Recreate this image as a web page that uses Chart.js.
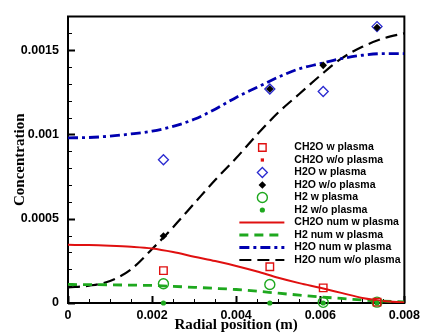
<!DOCTYPE html>
<html>
<head>
<meta charset="utf-8">
<script src="https://cdn.jsdelivr.net/npm/chart.js@4.4.0/dist/chart.umd.min.js"></script>
<style>
  html, body { margin: 0; padding: 0; background: #fff; }
  canvas { display: block; }
</style>
</head>
<body>
<canvas id="chart" width="425" height="333"></canvas>
<script>
// measured points (radial position, m)
var pointX = [0.00227, 0.0048, 0.00607, 0.00735];
var ch2oPlasma = [0.000192, 0.000215, 0.00009, 0.000005];
var ch2oNoPlasma = [0, 0, 0, 0];
var h2oPlasma = [0.00085, 0.00127, 0.001255, 0.00164];
var h2oNoPlasma = [0.000398, 0.00127, 0.00141, 0.001634];
var h2Plasma = [0.000114, 0.00011, 0.000004, 0.000005];
var h2NoPlasma = [0, 0, 0, 0];

// numerical profiles
var numX = [0, 0.0005, 0.001, 0.0015, 0.002, 0.0025, 0.003, 0.0035, 0.004, 0.0045, 0.005, 0.0055, 0.006, 0.0065, 0.007, 0.0075, 0.008];
var ch2oNum = [0.000345, 0.000344, 0.00034, 0.000334, 0.000324, 0.000303, 0.000275, 0.000249, 0.00022, 0.000187, 0.00015, 0.000118, 0.00009, 0.00006, 0.00003, 0.000012, 0.000003];
var h2Num = [0.00011, 0.000109, 0.000108, 0.000106, 0.000104, 0.000099, 0.000093, 0.000087, 0.00008, 0.00007, 0.000058, 0.000047, 0.000036, 0.000027, 0.000018, 0.000011, 0.000006];
var h2oNum = [0.00098, 0.000982, 0.00099, 0.001003, 0.00102, 0.001048, 0.00109, 0.00115, 0.00122, 0.00128, 0.00134, 0.00139, 0.00142, 0.00145, 0.00147, 0.00148, 0.00148];
var h2oNumNoPlasma = [0.000092, 0.000103, 0.00013, 0.0002, 0.00032, 0.00045, 0.00059, 0.00073, 0.00086, 0.001, 0.00113, 0.00124, 0.00135, 0.00145, 0.00152, 0.00157, 0.0016];

var xTicks = [0, 0.002, 0.004, 0.006, 0.008];
var xTickLabels = ['0', '0.002', '0.004', '0.006', '0.008'];
var yTicks = [0, 0.0005, 0.001, 0.0015];
var yTickLabels = ['0', '0.0005', '0.001', '0.0015'];

var RED = '#e01010', GREEN = '#1ea81e', BLUE = '#2a2ad0', NAVY = '#0000b0';

function pts(xs, ys) {
    return xs.map(function (x, i) { return {x: x, y: ys[i]}; });
}

function markerSet(label, ys, style, radius, fill, stroke, bw, order) {
    return {
        label: label, data: pts(pointX, ys), showLine: false, clip: false,
        pointStyle: style, pointRadius: radius, pointHoverRadius: radius,
        backgroundColor: fill, borderColor: stroke, pointBorderWidth: bw, order: order
    };
}

function lineSet(label, ys, color, width, dash) {
    return {
        label: label, data: pts(numX, ys), showLine: true, pointRadius: 0,
        borderColor: color, backgroundColor: color, borderWidth: width,
        borderDash: dash, cubicInterpolationMode: 'monotone', order: 5, isLine: true
    };
}

var datasets = [
    markerSet('CH2O w plasma', ch2oPlasma, 'rect', 5.3, 'rgba(0,0,0,0)', RED, 1.4, 2),
    markerSet('CH2O w/o plasma', ch2oNoPlasma, 'rect', 2.3, RED, RED, 0, 3),
    markerSet('H2O w plasma', h2oPlasma, 'rectRot', 5, 'rgba(0,0,0,0)', BLUE, 1.3, 2),
    markerSet('H2O w/o plasma', h2oNoPlasma, 'rectRot', 3.8, '#000', '#000', 0, 1),
    markerSet('H2 w plasma', h2Plasma, 'circle', 5, 'rgba(0,0,0,0)', GREEN, 1.4, 2),
    markerSet('H2 w/o plasma', h2NoPlasma, 'circle', 2.6, GREEN, GREEN, 0, 1),
    lineSet('CH2O num w plasma', ch2oNum, RED, 2, []),
    lineSet('H2 num w plasma', h2Num, GREEN, 2.8, [9, 6]),
    lineSet('H2O num w plasma', h2oNum, NAVY, 2.8, [10, 4, 3, 4]),
    lineSet('H2O num w/o plasma', h2oNumNoPlasma, '#000', 2.2, [12, 6])
];

function shape(ctx, style, x, y, r) {
    ctx.beginPath();
    if (style === 'circle') {
        ctx.arc(x, y, r, 0, Math.PI * 2);
    } else if (style === 'rect') {
        var s = r * Math.SQRT1_2;
        ctx.rect(x - s, y - s, 2 * s, 2 * s);
    } else {
        ctx.moveTo(x, y - r); ctx.lineTo(x + r, y); ctx.lineTo(x, y + r); ctx.lineTo(x - r, y);
        ctx.closePath();
    }
}

// inward ticks and frame like the original plot
var frameTicks = {
    id: 'frameTicks',
    beforeDatasetsDraw: function (chart) {
        var ctx = chart.ctx, a = chart.chartArea, xs = chart.scales.x, ys = chart.scales.y;
        ctx.save();
        ctx.strokeStyle = '#000';
        for (var i = 0; i <= 17; i++) {
            var py = Math.round(ys.getPixelForValue(i * 0.0001)) + 0.5;
            var major = i % 5 === 0;
            ctx.lineWidth = major ? 2 : 1;
            ctx.beginPath();
            ctx.moveTo(a.left, py);
            ctx.lineTo(a.left + (major ? 7 : 4), py);
            ctx.stroke();
        }
        for (var j = 0; j <= 16; j++) {
            var px = Math.round(xs.getPixelForValue(j * 0.0005)) + 0.5;
            var maj = j % 4 === 0;
            ctx.lineWidth = maj ? 2 : 1;
            ctx.beginPath();
            ctx.moveTo(px, a.bottom);
            ctx.lineTo(px, a.bottom - (maj ? 7 : 4));
            ctx.stroke();
        }
        ctx.lineWidth = 2;
        ctx.strokeRect(a.left, a.top, a.right - a.left, a.bottom - a.top);
        ctx.restore();
    },
    afterDraw: function (chart) {
        // legend inside plot area
        var ctx = chart.ctx, a = chart.chartArea;
        var lx0 = a.right - 165, lx1 = a.right - 120, mx = a.right - 142, tx = a.right - 110;
        var y0 = 147.5, dy = 12.5;
        ctx.save();
        ctx.font = 'bold 10.5px "Liberation Sans", Arial, sans-serif';
        ctx.textBaseline = 'middle';
        ctx.textAlign = 'left';
        chart.data.datasets.forEach(function (ds, i) {
            var y = y0 + i * dy;
            if (ds.isLine) {
                ctx.strokeStyle = ds.borderColor;
                ctx.lineWidth = ds.borderWidth;
                ctx.setLineDash(ds.borderDash);
                ctx.beginPath();
                ctx.moveTo(lx0, y);
                ctx.lineTo(lx1, y);
                ctx.stroke();
                ctx.setLineDash([]);
            } else {
                shape(ctx, ds.pointStyle, mx, y, ds.pointRadius);
                ctx.fillStyle = ds.backgroundColor;
                ctx.fill();
                if (ds.pointBorderWidth > 0) {
                    ctx.strokeStyle = ds.borderColor;
                    ctx.lineWidth = ds.pointBorderWidth;
                    ctx.stroke();
                }
            }
            ctx.fillStyle = '#000';
            ctx.fillText(ds.label, tx, y);
        });
        ctx.restore();
    }
};

var tickFont = {family: '"Liberation Sans", Arial, sans-serif', size: 12.5, weight: 'bold'};
var titleFont = {family: '"Liberation Serif", "Times New Roman", serif', size: 15, weight: 'bold', lineHeight: 1};

var ctx = document.getElementById('chart').getContext('2d');
var chart = new Chart(ctx, {
    type: 'scatter',
    data: {datasets: datasets},
    plugins: [frameTicks],
    options: {
        responsive: false,
        animation: false,
        devicePixelRatio: 1,
        layout: {padding: {top: 14, right: 15, left: 0, bottom: 0}},
        plugins: {legend: {display: false}, tooltip: {enabled: false}},
        scales: {
            x: {
                type: 'linear', min: 0, max: 0.008,
                grid: {display: false, drawTicks: false},
                border: {display: false},
                afterBuildTicks: function (s) { s.ticks = xTicks.map(function (v) { return {value: v}; }); },
                afterFit: function (s) { s.height = 30; },
                ticks: {
                    color: '#000', font: tickFont, padding: 5, maxRotation: 0,
                    callback: function (v, i) { return xTickLabels[i]; }
                },
                title: {display: true, text: 'Radial position (m)', color: '#000', font: titleFont, padding: {top: 0, bottom: 0}}
            },
            y: {
                type: 'linear', min: 0, max: 0.0017,
                grid: {display: false, drawTicks: false},
                border: {display: false},
                afterBuildTicks: function (s) { s.ticks = yTicks.map(function (v) { return {value: v}; }); },
                afterFit: function (s) { s.width = 68; },
                ticks: {
                    color: '#000', font: tickFont, padding: 9,
                    callback: function (v, i) { return yTickLabels[i]; }
                },
                title: {display: true, text: 'Concentration', color: '#000', font: titleFont, padding: {top: 13, bottom: 0}}
            }
        }
    }
});
</script>
</body>
</html>
